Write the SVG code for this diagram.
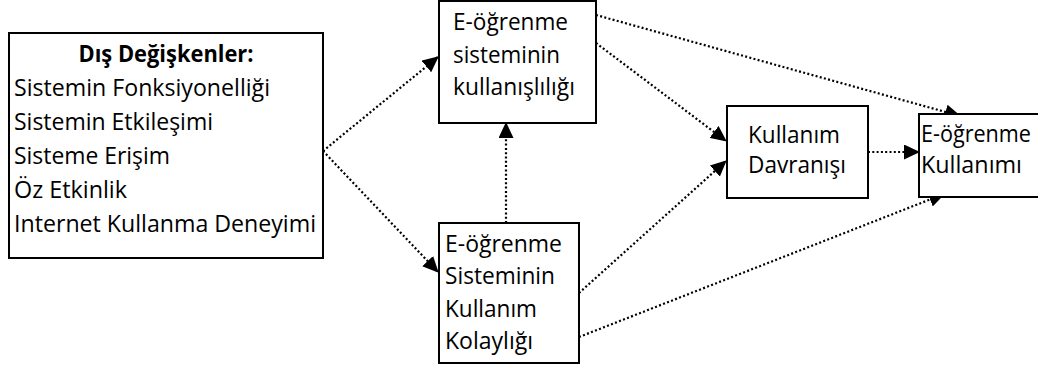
<svg xmlns="http://www.w3.org/2000/svg" width="1038" height="370" viewBox="0 0 1038 370">
  <style>
    .box { fill: #ffffff; stroke: #000000; stroke-width: 2; }
    .lbl { font-family: "Open Sans", "Noto Sans", sans-serif; font-size: 24px; fill: #000000; }
    .bold { font-weight: bold; }
    .link { fill: none; stroke: #000000; stroke-width: 2.2; stroke-dasharray: 2 2.3; marker-end: url(#head); }
  </style>
  <defs>
    <marker id="head" viewBox="0 0 16 15" refX="15" refY="7.5" markerWidth="16" markerHeight="15" markerUnits="userSpaceOnUse" orient="auto">
      <path d="M0,0 L16,7.5 L0,15 Z" fill="#000000"/>
    </marker>
  </defs>
  <rect width="1038" height="370" fill="#ffffff"/>

  <!-- dotted connectors, drawn beneath the boxes -->
  <g id="connectors">
    <line class="link" x1="323" y1="151" x2="438" y2="57"/>
    <line class="link" x1="323" y1="151" x2="438" y2="272"/>
    <line class="link" x1="596" y1="15" x2="960" y2="116"/>
    <line class="link" x1="596" y1="43" x2="726" y2="141"/>
    <line class="link" x1="506" y1="223" x2="506" y2="123"/>
    <line class="link" x1="579" y1="293" x2="726" y2="161"/>
    <line class="link" x1="579" y1="337" x2="944" y2="194"/>
    <line class="link" x1="868" y1="152" x2="919" y2="152"/>
  </g>

  <g id="external-variables">
    <rect class="box" x="9" y="33" width="314" height="225"/>
    <text class="lbl bold" x="166" y="62" text-anchor="middle" textLength="175" lengthAdjust="spacingAndGlyphs">Dış Değişkenler:</text>
    <text class="lbl" x="14" y="96" textLength="256" lengthAdjust="spacingAndGlyphs">Sistemin Fonksiyonelliği</text>
    <text class="lbl" x="14" y="130" textLength="199" lengthAdjust="spacingAndGlyphs">Sistemin Etkileşimi</text>
    <text class="lbl" x="14" y="164" textLength="156" lengthAdjust="spacingAndGlyphs">Sisteme Erişim</text>
    <text class="lbl" x="14" y="198" textLength="113" lengthAdjust="spacingAndGlyphs">Öz Etkinlik</text>
    <text class="lbl" x="14" y="232" textLength="302" lengthAdjust="spacingAndGlyphs">Internet Kullanma Deneyimi</text>
  </g>

  <g id="usefulness">
    <rect class="box" x="439" y="1" width="157" height="122"/>
    <text class="lbl" x="453" y="30" textLength="115" lengthAdjust="spacingAndGlyphs">E-öğrenme</text>
    <text class="lbl" x="453" y="63" textLength="107" lengthAdjust="spacingAndGlyphs">sisteminin</text>
    <text class="lbl" x="453" y="95" textLength="122" lengthAdjust="spacingAndGlyphs">kullanışlılığı</text>
  </g>

  <g id="ease-of-use">
    <rect class="box" x="439" y="223" width="140" height="140"/>
    <text class="lbl" x="445" y="252" textLength="117" lengthAdjust="spacingAndGlyphs">E-öğrenme</text>
    <text class="lbl" x="445" y="284" textLength="110" lengthAdjust="spacingAndGlyphs">Sisteminin</text>
    <text class="lbl" x="445" y="317" textLength="92" lengthAdjust="spacingAndGlyphs">Kullanım</text>
    <text class="lbl" x="445" y="349" textLength="88" lengthAdjust="spacingAndGlyphs">Kolaylığı</text>
  </g>

  <g id="usage-behaviour">
    <rect class="box" x="727" y="106" width="141" height="92"/>
    <text class="lbl" x="748" y="143" textLength="92" lengthAdjust="spacingAndGlyphs">Kullanım</text>
    <text class="lbl" x="748" y="173" textLength="98" lengthAdjust="spacingAndGlyphs">Davranışı</text>
  </g>

  <g id="elearning-use">
    <rect class="box" x="919" y="114" width="130" height="83"/>
    <text class="lbl" x="921" y="142" textLength="110" lengthAdjust="spacingAndGlyphs">E-öğrenme</text>
    <text class="lbl" x="921" y="173" textLength="101" lengthAdjust="spacingAndGlyphs">Kullanımı</text>
  </g>
</svg>
